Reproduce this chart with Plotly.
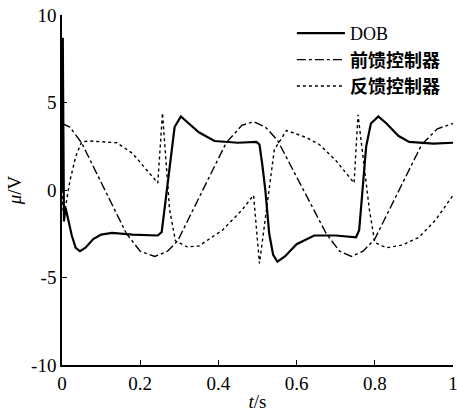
import plotly.graph_objects as go

# ---- data ----
t_dob = [0, 0.002, 0.005, 0.009, 0.014, 0.025, 0.035, 0.046, 0.06, 0.08, 0.1, 0.128, 0.18, 0.245,
         0.255, 0.265, 0.275, 0.288, 0.304, 0.32, 0.35, 0.39, 0.45, 0.497,
         0.505, 0.512, 0.52, 0.53, 0.54, 0.551, 0.57, 0.6, 0.645, 0.7, 0.752,
         0.76, 0.768, 0.778, 0.79, 0.809, 0.83, 0.86, 0.888, 0.95, 1.0]
dob = [0, 8.7, -1.8, -1.0, -1.5, -2.6, -3.3, -3.5, -3.3, -2.8, -2.55, -2.45, -2.55, -2.6,
       -2.4, -0.5, 1.3, 3.6, 4.2, 3.9, 3.3, 2.8, 2.7, 2.75,
       2.6, 1.5, 0.0, -2.5, -3.7, -4.1, -3.8, -3.1, -2.6, -2.6, -2.7,
       -2.3, 0.0, 2.5, 3.8, 4.2, 3.8, 3.1, 2.75, 2.65, 2.7]

t_ff = [0, 0.02, 0.05, 0.1, 0.165, 0.2, 0.237, 0.27, 0.296, 0.327, 0.37, 0.42, 0.46, 0.49,
        0.52, 0.551, 0.6, 0.676, 0.71, 0.74, 0.77, 0.8, 0.85, 0.92, 0.96, 1.0]
feedforward = [3.8, 3.6, 2.7, 0.45, -2.5, -3.5, -3.8, -3.5, -2.9, -1.5, 0.45, 2.7, 3.7, 3.9,
               3.6, 2.85, 0.75, -2.5, -3.5, -3.8, -3.5, -2.8, -0.55, 2.6, 3.5, 3.8]

t_fb = [0, 0.003, 0.008, 0.02, 0.035, 0.05, 0.07, 0.14, 0.18, 0.216, 0.245,
        0.257, 0.275, 0.29, 0.32, 0.35, 0.41, 0.46, 0.49,
        0.505, 0.525, 0.543, 0.574, 0.625, 0.658, 0.7, 0.747,
        0.757, 0.786, 0.8, 0.83, 0.87, 0.913, 0.956, 1.0]
feedback = [0, -1.2, -1.1, 0.5, 1.9, 2.75, 2.8, 2.7, 2.1, 1.15, 0.4,
            4.4, -1.1, -2.9, -3.25, -3.2, -2.3, -1.15, -0.3,
            -4.2, -0.6, 2.3, 3.4, 3.0, 2.6, 1.7, 0.4,
            4.3, -1.1, -3.0, -3.3, -3.15, -2.7, -1.7, -0.3]

names = ["DOB", "<b>前馈控制器</b>", "<b>反馈控制器</b>"]
x_tickvals = [0, 0.2, 0.4, 0.6, 0.8, 1]
x_ticktext = ["0", "0.2", "0.4", "0.6", "0.8", "1"]
y_tickvals = [-10, -5, 0, 5, 10]
y_ticktext = ["-10", "-5", "0", "5", "10"]

serif = "Liberation Serif, Times New Roman, serif"
cjk = "Liberation Serif, Noto Sans CJK SC, serif"

fig = go.Figure()
fig.add_trace(go.Scatter(x=t_dob, y=dob, mode="lines", name=names[0],
                         line=dict(color="black", width=2.2)))
fig.add_trace(go.Scatter(x=t_ff, y=feedforward, mode="lines", name=names[1],
                         line=dict(color="black", width=1.4, dash="dashdot")))
fig.add_trace(go.Scatter(x=t_fb, y=feedback, mode="lines", name=names[2],
                         line=dict(color="black", width=1.4, dash="dot")))

axis_common = dict(showgrid=False, zeroline=False, showline=True, linecolor="black",
                   linewidth=1.5, ticks="inside", ticklen=5, tickwidth=1.2, tickcolor="black",
                   mirror=False, automargin=False, ticklabeloverflow="allow",
                   tickfont=dict(family=serif, size=19, color="black"))

fig.update_xaxes(range=[0, 1], tickvals=x_tickvals, ticktext=x_ticktext,
                 title=dict(text="<i>t</i>/s", font=dict(family=serif, size=19, color="black"),
                            standoff=2),
                 **axis_common)
fig.update_yaxes(range=[-10, 10], tickvals=y_tickvals, ticktext=y_ticktext,
                 title=dict(text="<i>μ</i>/V", font=dict(family=serif, size=19, color="black"),
                            standoff=4),
                 **axis_common)

fig.update_layout(
    width=457, height=414,
    margin=dict(l=62, r=4, t=15, b=49),
    paper_bgcolor="white", plot_bgcolor="white",
    showlegend=True,
    legend=dict(x=0.588, y=1.0, xanchor="left", yanchor="top",
                bgcolor="rgba(0,0,0,0)", borderwidth=0,
                font=dict(family=cjk, size=18, color="black"),
                itemwidth=48, tracegroupgap=0),
)

# remove the default 8px page margin so the figure fills the window exactly
fig.write_html("out.html",
               config={"displayModeBar": False},
               post_script="document.body.style.margin='0px';document.body.style.overflow='hidden';")
